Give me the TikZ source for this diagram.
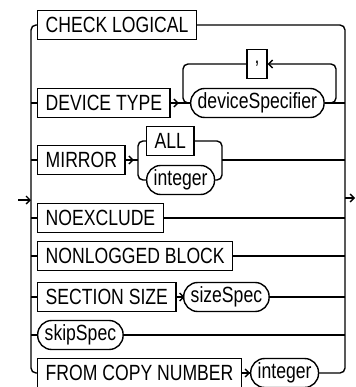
\documentclass[tikz,border=0pt]{standalone}
\usepackage{fontspec}
\setmainfont{Liberation Sans}[FakeStretch=0.8]
\usepackage{tikz}
\usetikzlibrary{arrows.meta}

\tikzset{
  kw/.style={draw, rectangle, minimum height=29pt, inner xsep=8pt, inner ysep=0pt, anchor=west},
  nt/.style={draw, rectangle, rounded corners=14pt, minimum height=29pt, inner xsep=7pt, inner ysep=0pt, anchor=west},
  rail/.style={rounded corners=5pt},
  chev/.style={-{Straight Barb[length=4pt,width=8pt]}},
}

\begin{document}
\begin{tikzpicture}[x=1pt,y=-1pt,line width=1.4pt,font=\fontsize{22}{26}\selectfont]
  \useasboundingbox (0,0) rectangle (355,387);
  % rails
  \coordinate (lt) at (31,25);
  \coordinate (lb) at (31,373);
  \coordinate (rt) at (345,25);
  \coordinate (rb) at (345,373);
  \coordinate (in) at (18,200);
  \coordinate (out) at (355,198);
  % keywords and specs
  \node[kw] (chk) at (37,25) {CHECK LOGICAL};
  \node[kw] (dev) at (37,103) {DEVICE TYPE};
  \node[nt] (spec) at (190,103) {deviceSpecifier};
  \node[kw, anchor=center, minimum width=20pt, inner xsep=0pt] (comma) at (257,64) {,};
  \node[kw] (mir) at (37,160) {MIRROR};
  \node[kw] (all) at (146,141) {ALL};
  \node[nt] (mint) at (146,180) {integer};
  \node[kw] (noex) at (37,218) {NOEXCLUDE};
  \node[kw] (nolog) at (37,256) {NONLOGGED BLOCK};
  \node[kw] (sect) at (37,297) {SECTION SIZE};
  \node[nt] (size) at (183,297) {sizeSpec};
  \node[nt] (skip) at (37,335) {skipSpec};
  \node[kw] (copy) at (37,373) {FROM COPY NUMBER};
  \node[nt] (cint) at (250,373) {integer};
  % entry and exit
  \draw[chev] (in) -- (lt |- in);
  \draw[chev] (rt |- out) -- (out);
  \draw[rail] (chk.west) -- (lt) -- (lb) -- (copy.west);
  \draw[rail] (chk.east) -- (rt) -- (rb) -- (cint.east);
  \foreach \n in {dev,mir,noex,nolog,sect,skip}
    \draw (lt |- \n.west) -- (\n.west);
  \foreach \n in {spec,noex,nolog,size,skip}
    \draw (\n.east) -- (rt |- \n.east);
  % device type loop
  \coordinate (ll) at (183,103);
  \coordinate (lr) at (336,103);
  \draw (dev.east) -- (spec.west);
  \draw[chev] (dev.east) -- ++(8,0);
  \draw[rail] (comma.west) -| (ll) -- (spec.west);
  \draw[rail,chev] (spec.east) -- (lr) |- (comma.east);
  % mirror branch
  \coordinate (ml) at (138,160);
  \coordinate (mr) at (222,160);
  \draw (mir.east) -- (ml);
  \draw[chev] (mir.east) -- ++(8,0);
  \draw[rail] (all.west) -| (ml) |- (mint.west);
  \draw[rail] (all.east) -| (mr) |- (mint.east);
  \draw (mr) -- (rt |- mr);
  % section size, copy number
  \draw (sect.east) -- (size.west);
  \draw[chev] (sect.east) -- ++(8,0);
  \draw (copy.east) -- (cint.west);
  \draw[chev] (copy.east) -- ++(8,0);
\end{tikzpicture}
\end{document}
